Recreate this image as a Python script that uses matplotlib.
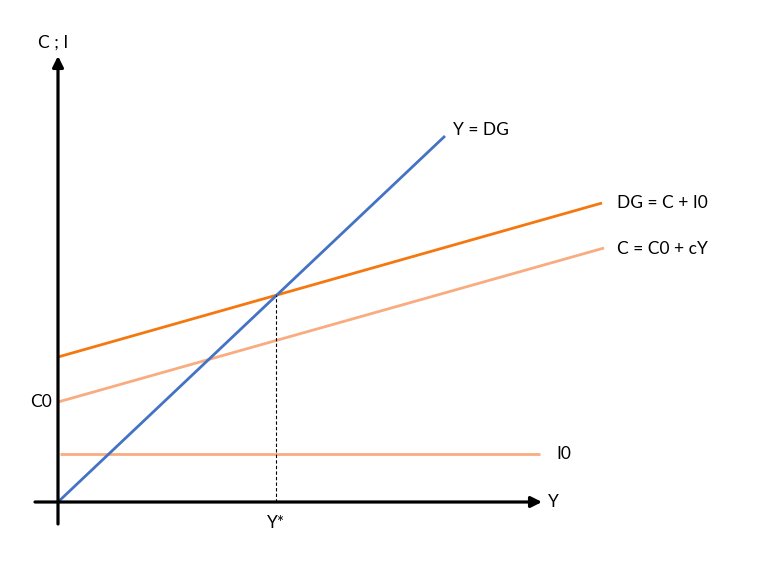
import numpy as np
import matplotlib.pyplot as plt

plt.rcParams['font.family'] = ['Lato', 'DejaVu Sans']

# ---------- Data (in drawing units, origin = (0, 0)) ----------
y_line_x = [0, 387]        # Y = DG
y_line_y = [0, 366]
dg_x = [0, 544]            # DG = C + I0
dg_y = [145, 299]
c_x = [0, 546]             # C = C0 + cY
c_y = [100, 254]
i0_x = [2, 482]            # I0
i0_y = [48, 48]
y_star = 218
dg_star = 207

blue = '#4472C4'
dark_orange = '#F5780F'
light_orange = '#F9AC80'

fig = plt.figure(figsize=(7.72, 5.75), dpi=100)
ax = fig.add_axes([0, 0, 1, 1])
ax.set_xlim(-58, 714)
ax.set_ylim(-73, 502)
ax.axis('off')

# ---------- Axes with arrows ----------
ax.annotate('', xy=(0, 446), xytext=(0, -22),
            arrowprops=dict(arrowstyle='-|>', lw=2.3, color='black',
                            mutation_scale=16, shrinkA=0, shrinkB=0))
ax.annotate('', xy=(484, 0), xytext=(-23, 0),
            arrowprops=dict(arrowstyle='-|>', lw=2.3, color='black',
                            mutation_scale=16, shrinkA=0, shrinkB=0))

# ---------- Lines ----------
ax.plot(i0_x, i0_y, color=light_orange, lw=2.0, solid_capstyle='butt')
ax.plot(c_x, c_y, color=light_orange, lw=2.0, solid_capstyle='butt')
ax.plot(dg_x, dg_y, color=dark_orange, lw=2.0, solid_capstyle='butt')
ax.plot(y_line_x, y_line_y, color=blue, lw=2.0, solid_capstyle='butt')
ax.plot([y_star, y_star], [0, dg_star], color='black', lw=0.8,
        ls=(0, (3, 2)))

# ---------- Labels ----------
fs = 12.5
ax.text(-20, 459, 'C ; I', fontsize=fs, va='center', ha='left')
ax.text(-6, 100, 'C0', fontsize=fs, va='center', ha='right')
ax.text(y_star, -21, 'Y*', fontsize=fs, va='center', ha='center')
ax.text(490, 0, 'Y', fontsize=fs, va='center', ha='left')
ax.text(498, 48, 'I0', fontsize=fs, va='center', ha='left')
ax.text(395, 372, 'Y = DG', fontsize=fs, va='center', ha='left')
ax.text(559, 299, 'DG = C + I0', fontsize=fs, va='center', ha='left')
ax.text(559, 253, 'C = C0 + cY', fontsize=fs, va='center', ha='left')

fig.savefig('out.png', dpi=100)
